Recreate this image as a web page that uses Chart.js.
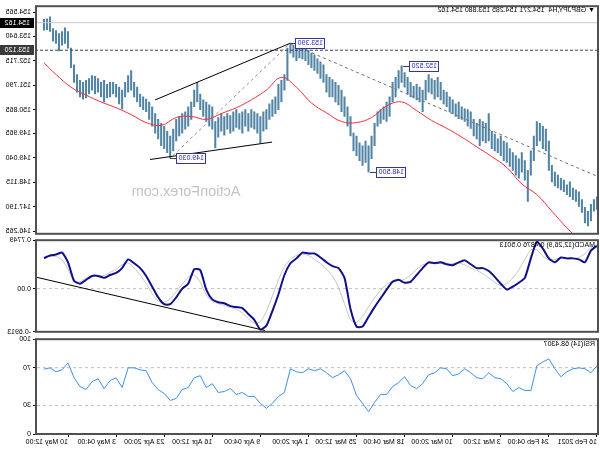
<!DOCTYPE html>
<html><head><meta charset="utf-8">
<script src="https://cdn.jsdelivr.net/npm/chart.js@4.4.1/dist/chart.umd.min.js"></script>
<style>
html,body{margin:0;padding:0;background:#fff;}
#wrap{position:relative;width:600px;height:450px;overflow:hidden;transform:scaleX(-1);background:#fff;}
#wrap canvas{position:absolute;left:0;}
</style></head><body>
<div id="wrap">
<canvas id="mainC" width="600" height="240" style="top:0px"></canvas>
<canvas id="macdC" width="600" height="104" style="top:234px"></canvas>
<canvas id="rsiC" width="600" height="117" style="top:333px"></canvas>
</div>
<script>
// ---------- DATA ----------
// GBPJPY H4 price bars, one sample per 2 H4 bars (bar index = 2*k)
const priceHigh = [147.57,147.46,147.28,147.02,147.17,147.46,147.76,147.83,147.90,148.13,148.02,148.20,148.27,148.39,148.50,148.76,149.68,150.13,150.24,150.35,
150.42,149.87,149.31,148.57,148.94,149.24,149.01,149.13,149.24,149.39,149.61,149.68,149.87,149.76,149.94,150.05,150.72,150.35,150.42,150.50,
150.35,150.50,150.79,150.87,150.90,150.98,151.16,151.09,151.24,151.35,151.53,151.61,151.90,152.09,151.98,152.05,152.20,151.98,151.61,151.72,
151.83,151.75,151.90,152.09,152.27,152.53,152.35,152.09,151.90,151.35,151.16,150.98,150.87,150.79,150.35,149.87,149.50,149.68,149.50,149.61,
149.87,149.98,150.61,150.98,151.35,151.61,151.79,151.90,152.01,152.09,152.20,152.57,152.68,152.79,152.94,153.01,153.12,153.23,153.20,153.31,
153.23,153.31,153.39,153.20,152.20,151.98,151.83,151.35,151.24,151.09,150.87,150.79,150.61,150.72,150.79,150.87,150.72,150.87,150.79,150.72,
150.87,150.79,150.64,150.72,150.61,150.72,150.57,150.42,150.98,151.05,151.16,151.24,151.46,151.90,151.61,151.16,150.98,150.79,150.72,150.61,
150.50,150.13,149.87,150.05,150.24,150.35,150.50,150.72,150.98,151.16,151.27,151.35,151.46,151.72,151.90,152.35,152.16,151.90,151.61,151.72,
151.83,151.90,151.90,151.83,151.98,151.90,152.05,152.13,152.16,152.05,151.98,151.90,151.98,152.20,152.57,153.20,153.83,153.97,153.83,153.75,
153.86,153.94,154.38,154.31,154.285];
const priceLow = [147.09,147.02,146.65,146.46,146.58,146.98,147.20,147.39,147.46,147.57,147.65,147.76,147.83,147.90,147.98,148.13,148.57,149.31,149.39,149.68,
149.50,148.94,148.39,147.39,148.20,148.50,148.27,148.39,148.57,148.72,148.87,148.94,149.13,149.24,149.31,149.39,149.68,149.61,149.68,149.50,
149.76,149.87,150.16,150.24,150.42,150.50,150.53,150.61,150.72,150.79,150.98,151.09,151.24,151.35,151.27,151.46,151.53,151.24,150.79,151.16,
151.24,151.31,151.35,151.46,151.72,151.90,151.68,151.35,151.16,150.61,150.42,150.50,150.35,150.24,149.50,149.01,148.50,148.87,148.76,148.94,
149.13,149.31,149.87,150.24,150.61,150.79,151.05,151.16,151.35,151.35,151.53,151.90,152.05,152.24,152.35,152.46,152.57,152.72,152.79,152.83,
152.72,152.86,153.01,151.98,151.61,151.16,150.87,150.72,150.61,150.50,150.13,150.05,149.61,149.98,150.13,150.20,150.05,150.24,149.98,150.13,
150.20,150.05,149.98,150.13,149.90,150.05,149.83,149.42,150.13,150.24,150.42,150.61,150.87,151.16,150.98,150.50,150.24,150.13,149.98,149.87,
149.68,149.31,149.03,149.24,149.39,149.50,149.76,149.98,150.24,150.50,150.79,150.87,150.98,151.16,151.35,151.61,151.53,151.35,150.90,151.09,
151.35,151.46,151.35,151.31,151.16,151.35,151.53,151.46,151.61,151.46,151.31,151.27,151.35,151.53,151.90,152.46,153.20,153.38,153.31,153.09,
153.38,153.46,153.83,153.90,153.88];
const priceStep = 2;

// red moving average, one value every 10 H4 bars (last one = last bar)
const maValues = [145.17,145.83,146.39,147.02,147.65,148.05,148.68,149.09,149.46,149.83,150.16,150.46,150.83,151.16,151.01,150.57,150.38,150.42,150.75,151.12,
151.72,152.09,151.61,151.24,150.94,150.72,150.50,150.61,150.57,150.27,150.38,150.68,150.94,151.16,151.42,151.72,152.20,152.64];
const maStep = 10;
const lastBar = 368;

// MACD(12,26,9): one value every 4 H4 bars
const macdMain = [0.686,0.608,0.421,0.468,0.484,0.484,0.499,0.421,0.484,0.640,0.749,0.484,0.172,0.094,0.031,-0.016,0.078,0.187,0.281,0.328,
0.328,0.390,0.452,0.421,0.374,0.390,0.421,0.406,0.421,0.328,0.218,0.109,0.094,0.140,0.109,-0.016,-0.156,-0.296,-0.452,-0.608,
-0.608,-0.328,0.172,0.328,0.359,0.421,0.499,0.562,0.562,0.577,0.484,0.406,0.218,-0.094,-0.359,-0.593,-0.655,-0.499,-0.406,-0.312,
-0.296,-0.281,-0.234,-0.218,-0.172,-0.016,0.296,0.310,0.078,0.000,-0.140,-0.250,-0.250,-0.140,0.031,0.203,0.328,0.406,0.468,0.328,
0.250,0.218,0.172,0.203,0.203,0.140,0.078,0.125,0.421,0.577,0.546,0.530,0.4876];
const macdSignal = [0.700,0.660,0.560,0.500,0.480,0.480,0.490,0.470,0.460,0.520,0.620,0.620,0.470,0.300,0.170,0.080,0.050,0.100,0.170,0.240,
0.290,0.330,0.380,0.410,0.400,0.390,0.400,0.400,0.410,0.380,0.310,0.220,0.150,0.130,0.120,0.070,-0.030,-0.150,-0.290,-0.440,
-0.540,-0.500,-0.240,0.020,0.200,0.310,0.400,0.470,0.530,0.550,0.530,0.470,0.350,0.140,-0.120,-0.360,-0.530,-0.550,-0.480,-0.390,
-0.330,-0.300,-0.270,-0.240,-0.200,-0.100,0.100,0.220,0.180,0.070,-0.050,-0.160,-0.220,-0.200,-0.080,0.080,0.220,0.330,0.410,0.380,
0.310,0.260,0.210,0.200,0.200,0.170,0.110,0.110,0.310,0.460,0.510,0.520,0.5013];
// RSI(14): one value every 4 H4 bars
const rsiValues = [71.9,64.6,68.8,69.8,68.8,65.6,60.4,68.8,79.2,76.0,71.9,45.8,45.8,49.0,44.8,53.1,58.3,59.4,64.6,58.3,
59.4,64.6,68.8,63.5,61.5,68.8,69.8,64.6,62.5,53.1,47.9,51.0,60.4,54.2,50.0,41.7,41.7,33.3,23.5,32.3,
40.6,58.3,66.7,62.5,59.4,64.6,68.8,66.7,68.8,64.6,65.6,68.8,43.8,39.6,32.3,27.1,32.3,39.6,39.6,43.8,
41.7,47.9,44.8,43.8,53.1,49.0,61.5,59.4,49.0,46.9,37.5,35.4,42.7,46.9,54.2,66.7,67.7,69.8,69.8,49.0,
59.4,56.3,47.9,58.3,55.2,46.9,50.0,59.4,75.0,67.7,65.6,69.8,68.4307];
const indStep = 4;

// axes
const priceTicks = [154.565,153.640,152.715,151.790,150.865,149.965,149.040,148.115,147.190,146.265];
const macdTicks = [0.7749,0,-0.6913];
const macdTickLabels = ["0.7749","0.00","-0.6913"];
const rsiTicks = [100,70,30,0];
const timeLabels = ["16 Feb 2021","24 Feb 04:00","3 Mar 12:00","10 Mar 20:00","18 Mar 04:00","25 Mar 12:00","1 Apr 20:00","9 Apr 04:00","16 Apr 12:00","23 Apr 20:00","3 May 04:00","10 May 12:00"];
const timeLabelBars = [0,32,64,96,128,160,192,224,256,288,320,352];

// annotations (bar index, price)
const swingBars = [284,205,151,129];
const swingPrices = [149.03,153.39,148.50,152.52];
const channelUpper = [[294.1,151.235],[204.3,153.38]];
const channelLower = [[297.4,148.98],[216.2,149.64]];
const dashUp = [[282.1,149.13],[204.3,153.38]];
const dashDown = [[204.3,153.38],[-0.7,148.33]];
const macdTrend = [[373.9,0.187],[220.9,-0.671]];
const bidPrice = 154.162;
const markPrice = 153.120;
const headerText = "\u25BC GBPJPY,H4  154.271 154.285 153.880 154.162";
const macdText = "MACD(12,26,9) 0.4876 0.5013";
const rsiText = "RSI(14) 68.4307";

// ---------- HELPERS ----------
const X_MIN = -0.7, X_MAX = 373.3;
const FONT = "Liberation Sans";
const pts = a => a.map(p => ({x:p[0], y:p[1]}));
const seq = (vals, step) => vals.map((v,i)=>({x:Math.min(i*step,lastBar), y:v}));
function lineDS(data, color, width, dash, order){
  return {type:'line', data, borderColor:color, borderWidth:width, borderDash:dash||[], pointRadius:0, fill:false, tension:0, order:order==null?0:order};
}
function xAxis(show){
  const o = {type:'linear', min:X_MIN, max:X_MAX, offset:false, display:show, grid:{display:false}, border:{display:false}};
  if(show){
    o.afterBuildTicks = s => { s.ticks = timeLabelBars.map(v=>({value:v})); };
    o.afterFit = s => { s.height = 16; };
    o.ticks = {autoSkip:false, maxRotation:0, minRotation:0, align:'start', padding:1, color:'#000', font:{family:FONT,size:7}, callback:(v,i)=>timeLabels[i]};
    o.grid = {display:true, drawOnChartArea:false, drawTicks:true, tickLength:3, color:'#000'};
  }
  return o;
}
function yAxis(min, max, ticks, cb){
  return {position:'right', min, max,
    afterFit: s => { s.width = 36; },
    afterBuildTicks: s => { s.ticks = ticks.map(v=>({value:v})); },
    ticks:{color:'#000', padding:2, font:{family:FONT,size:7}, callback:cb},
    grid:{drawOnChartArea:false, drawTicks:true, tickLength:3, color:'#000'},
    border:{display:false}};
}
const frame = {id:'frame', afterDraw(c){
  const a=c.chartArea, ctx=c.ctx; ctx.save(); ctx.strokeStyle='#505050'; ctx.lineWidth=2;
  ctx.strokeRect(a.left, a.top, a.right-a.left, a.bottom-a.top); ctx.restore(); }};
function textPlugin(txt, y){
  return {id:'txt'+y, afterDraw(c){ const ctx=c.ctx; ctx.save(); ctx.font='7px "'+FONT+'"'; ctx.fillStyle='#000';
    ctx.textBaseline='middle'; ctx.textAlign='left'; ctx.fillText(txt, c.chartArea.left+3, c.chartArea.top+y); ctx.restore(); }};
}
const commonOpts = {responsive:false, animation:false, events:[], plugins:{legend:{display:false}, tooltip:{enabled:false}}};

// ---------- MAIN ----------
const mainPlugins = [frame, textPlugin(headerText,4), {
  id:'deco',
  beforeDatasetsDraw(c){
    const ctx=c.ctx; ctx.save();
    ctx.font='14.5px "'+FONT+'"'; ctx.fillStyle='#c4c4c4'; ctx.textAlign='center'; ctx.textBaseline='middle';
    ctx.fillText('ActionForex.com', 414, 192); ctx.restore();
  },
  afterDatasetsDraw(c){
    const ctx=c.ctx, xs=c.scales.x, ys=c.scales.y; ctx.save();
    ctx.font='7px "'+FONT+'"'; ctx.textBaseline='middle';
    swingBars.forEach((b,i)=>{
      const px=xs.getPixelForValue(b), py=Math.round(ys.getPixelForValue(swingPrices[i]));
      const t=swingPrices[i].toFixed(3), w=Math.ceil(ctx.measureText(t).width)+4;
      const bx=Math.round(px)-6-w;
      ctx.strokeStyle='#404040'; ctx.lineWidth=1; ctx.beginPath(); ctx.moveTo(px,py+0.5); ctx.lineTo(bx+w,py+0.5); ctx.stroke();
      ctx.fillStyle='#fff'; ctx.fillRect(bx,py-5,w,10);
      ctx.strokeStyle='#3535a0'; ctx.strokeRect(bx+0.5,py-4.5,w-1,10);
      ctx.fillStyle='#2828a8'; ctx.textAlign='left'; ctx.fillText(t,bx+2,py+0.5);
    });
    const boxes=[[bidPrice,'#000'],[markPrice,'#3a3a3a']];
    boxes.forEach(([p,col])=>{
      const py=Math.round(ys.getPixelForValue(p));
      ctx.fillStyle=col; ctx.fillRect(c.chartArea.right+2,py-5,34,10);
      ctx.fillStyle='#fff'; ctx.textAlign='left'; ctx.fillText(p.toFixed(3), c.chartArea.right+6, py+0.5);
    });
    ctx.restore();
  }}];

new Chart(document.getElementById('mainC'), {
  type:'bar',
  data:{datasets:[
    {type:'bar', data: priceHigh.map((h,k)=>({x:k*priceStep, y:[priceLow[k], h]})), backgroundColor:'#5284a4', barThickness:1.4, order:10},
    lineDS([{x:X_MIN,y:bidPrice},{x:X_MAX,y:bidPrice}], '#c8c8c8', 1, [], 9),
    lineDS([{x:X_MIN,y:markPrice},{x:X_MAX,y:markPrice}], '#404040', 1, [3,2], 9),
    Object.assign(lineDS(seq(maValues, maStep), '#f0303c', 1, [], 2), {tension:0.4}),
    lineDS(pts(channelUpper), '#000', 1, [], 1),
    lineDS(pts(channelLower), '#000', 1, [], 1),
    lineDS(pts(dashUp), '#909090', 1, [3,3], 1),
    lineDS(pts(dashDown), '#707070', 1, [3,3], 1)
  ]},
  options:Object.assign({}, commonOpts, {
    layout:{padding:{top:2,bottom:5,left:2,right:0}},
    scales:{x:xAxis(false), y:yAxis(146.166, 154.787, priceTicks, v=>Number(v).toFixed(3))}
  }),
  plugins: mainPlugins
});

// ---------- MACD ----------
new Chart(document.getElementById('macdC'), {
  type:'line',
  data:{datasets:[
    lineDS([{x:X_MIN,y:0},{x:X_MAX,y:0}], '#c0c0c0', 1, [3,3], 5),
    Object.assign(lineDS(seq(macdSignal, indStep), '#c4c4c4', 1, [], 3), {tension:0.25}),
    Object.assign(lineDS(seq(macdMain, indStep), '#10108a', 2, [], 2), {tension:0.2}),
    lineDS(pts(macdTrend), '#000', 1, [], 1)
  ]},
  options:Object.assign({}, commonOpts, {
    layout:{padding:{top:5,bottom:5,left:2,right:0}},
    scales:{x:xAxis(false), y:yAxis(-0.6913, 0.7749, macdTicks, (v,i)=>macdTickLabels[i])}
  }),
  plugins:[frame, textPlugin(macdText,5)]
});

// ---------- RSI ----------
new Chart(document.getElementById('rsiC'), {
  type:'line',
  data:{datasets:[
    lineDS([{x:X_MIN,y:70},{x:X_MAX,y:70}], '#c0c0c0', 1, [3,3], 5),
    lineDS([{x:X_MIN,y:30},{x:X_MAX,y:30}], '#c0c0c0', 1, [3,3], 5),
    lineDS(seq(rsiValues, indStep), '#3d8fe8', 1, [], 1)
  ]},
  options:Object.assign({}, commonOpts, {
    layout:{padding:{top:5,bottom:0,left:2,right:0}},
    scales:{x:xAxis(true), y:yAxis(0, 100, rsiTicks, v=>String(v))}
  }),
  plugins:[frame, textPlugin(rsiText,5)]
});
</script>
</body></html>
